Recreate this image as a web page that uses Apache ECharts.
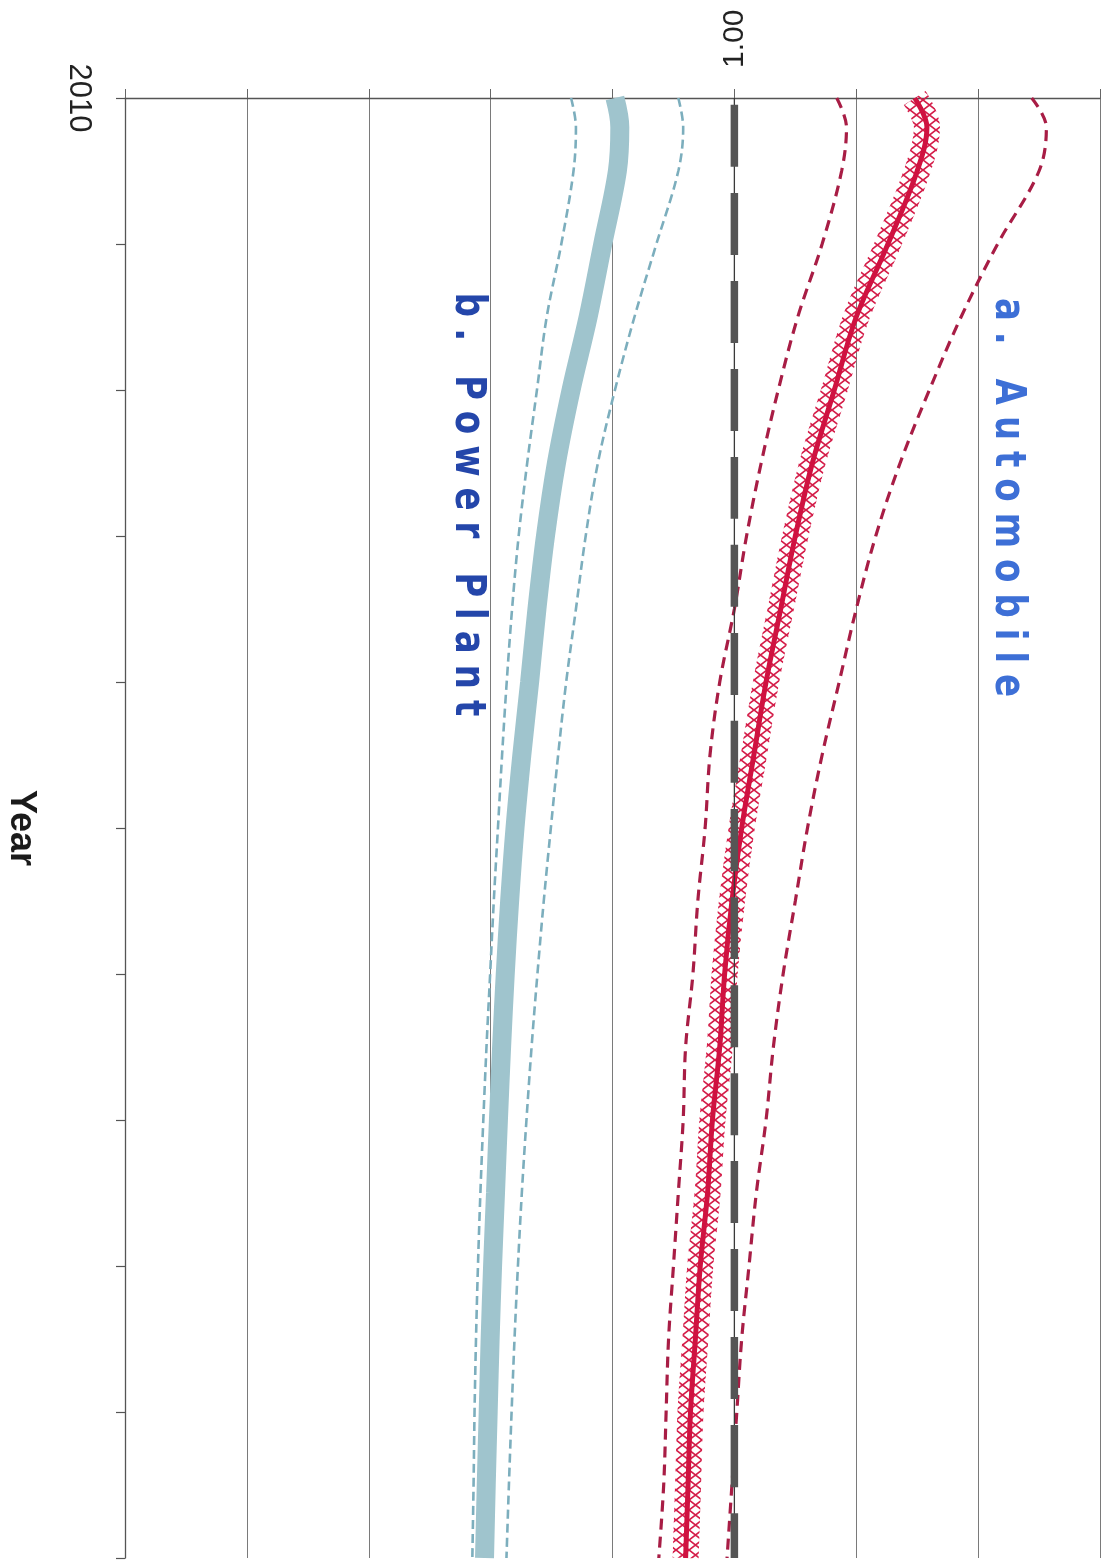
<!DOCTYPE html>
<html><head><meta charset="utf-8">
<script src="https://cdn.jsdelivr.net/npm/echarts@6/dist/echarts.min.js"></script>
<style>
html,body{margin:0;padding:0;background:#fff;}
#wrap{position:relative;width:1111px;height:1564px;}
#chart,#labels{position:absolute;left:0;top:0;width:1111px;height:1564px;}
#labels{pointer-events:none;}
#labels svg text{letter-spacing:11px;}
</style></head><body>
<div id="wrap"><div id="chart"></div><div id="labels"></div></div>
<script>
// ---- data ----
const years      = [2010, 2011, 2012.5, 2015, 2017.5, 2020, 2022.5, 2025, 2027.5, 2030, 2032.5, 2035, 2037.5, 2040, 2042.5, 2045, 2047.5, 2050, 2052.5, 2055, 2057.5, 2060];
const auto       = [1.074, 1.079, 1.075, 1.063, 1.050, 1.041, 1.032, 1.025, 1.019, 1.013, 1.008, 1.003, 0.999, 0.996, 0.994, 0.991, 0.989, 0.986, 0.984, 0.982, 0.981, 0.980];
const autoHigh   = [1.122, 1.128, 1.125, 1.108, 1.093, 1.080, 1.068, 1.058, 1.050, 1.043, 1.036, 1.030, 1.025, 1.020, 1.016, 1.013, 1.009, 1.006, 1.003, 1.001, 0.999, 0.997];
const autoLow    = [1.042, 1.046, 1.044, 1.036, 1.026, 1.018, 1.011, 1.005, 1.000, 0.994, 0.990, 0.988, 0.985, 0.983, 0.980, 0.979, 0.977, 0.975, 0.973, 0.972, 0.971, 0.969];
const power      = [0.951, 0.953, 0.952, 0.946, 0.940, 0.933, 0.927, 0.9225, 0.919, 0.916, 0.9128, 0.910, 0.9078, 0.906, 0.9045, 0.9032, 0.902, 0.9008, 0.8998, 0.899, 0.8982, 0.8975];
const powerHigh  = [0.977, 0.979, 0.977, 0.968, 0.959, 0.951, 0.944, 0.939, 0.935, 0.931, 0.9277, 0.9247, 0.9218, 0.9192, 0.9168, 0.9147, 0.9128, 0.9112, 0.9098, 0.9086, 0.9075, 0.9065];
const powerLow   = [0.933, 0.935, 0.934, 0.929, 0.923, 0.919, 0.915, 0.9115, 0.9088, 0.9066, 0.9047, 0.903, 0.9013, 0.8998, 0.8983, 0.897, 0.8958, 0.8948, 0.894, 0.8934, 0.893, 0.8925];
const refYears   = [2010, 2060];
const refValues  = [1.00, 1.00];
const yearTickLabels  = ['2010'];
const valueTickLabels = ['1.00'];
const annotations = ['a. Automobile', 'b. Power Plant'];

const pairs = (vals, ys) => vals.map((v, i) => [v, (ys || years)[i]]);

// cross-hatch pattern for the marker line
const pat = document.createElement('canvas');
pat.width = 13; pat.height = 10;
const pc = pat.getContext('2d');
pc.strokeStyle = '#d41c48'; pc.lineWidth = 1.7;
pc.beginPath(); pc.moveTo(0, 0); pc.lineTo(13, 10); pc.moveTo(13, 0); pc.lineTo(0, 10); pc.stroke();

const chart = echarts.init(document.getElementById('chart'));
const line = (name, data, ls, z) => ({
  name, type: 'line', data, showSymbol: false, symbol: 'none', smooth: 0.35,
  lineStyle: ls, z: z || 2, silent: true, animation: false
});
chart.setOption({
  animation: false,
  backgroundColor: '#fff',
  grid: { left: 125, top: 98, width: 975, height: 1460, containLabel: false, outerBoundsMode: 'none' },
  xAxis: {
    type: 'value', position: 'top', min: 0.75, max: 1.15, interval: 0.05,
    axisLine: { show: true, lineStyle: { color: '#555', width: 1.3 } },
    axisTick: { show: true, length: 9, lineStyle: { color: '#666', width: 1 } },
    axisLabel: {
      rotate: -90, margin: 30, fontSize: 30, fontFamily: 'Liberation Sans', color: '#222',
      formatter: v => { const s = v.toFixed(2); return valueTickLabels.includes(s) ? s : ''; }
    },
    splitLine: { show: true, lineStyle: { color: '#7a7a7a', width: 1 } }
  },
  yAxis: {
    type: 'value', inverse: true, min: 2010, max: 2060, interval: 5,
    axisLine: { show: true, lineStyle: { color: '#555', width: 1.3 } },
    axisTick: { show: true, length: 9, lineStyle: { color: '#555', width: 1.2 } },
    axisLabel: {
      rotate: -90, margin: 31, fontSize: 31, fontFamily: 'Liberation Sans', color: '#222',
      formatter: v => { const s = String(v); return yearTickLabels.includes(s) ? s : ''; }
    },
    splitLine: { show: false },
    name: 'Year', nameLocation: 'middle', nameRotate: -90, nameGap: 86,
    nameTextStyle: { fontWeight: 'bold', fontSize: 36, fontFamily: 'Liberation Sans', color: '#1a1a1a' }
  },
  series: [
    line('Power Plant low', pairs(powerLow), { color: '#7caebd', width: 2.6, type: [9, 5] }),
    line('Power Plant high', pairs(powerHigh), { color: '#7caebd', width: 2.6, type: [9, 5] }),
    line('Power Plant', pairs(power), { color: '#9fc4cd', width: 19, cap: 'butt' }),
    line('Automobile low', pairs(autoLow), { color: '#a81d45', width: 3.2, type: [11, 7] }),
    line('Automobile high', pairs(autoHigh), { color: '#a81d45', width: 3.2, type: [11, 7] }),
    line('Automobile hatch', pairs(auto), { color: { image: pat, repeat: 'repeat' }, width: 26, cap: 'butt' }, 3),
    line('Automobile', pairs(auto), { color: '#cf1240', width: 5 }, 4),
    line('Reference', pairs(refValues, refYears), { color: '#3a3a3a', width: 1.3 }, 5),
    line('Reference dash', pairs(refValues, refYears), { color: '#555555', width: 7.5, type: [62, 26], dashOffset: 81, cap: 'butt' }, 6)
  ]
});

// annotations (letter-spaced) on an SVG overlay instance
const lab = echarts.init(document.getElementById('labels'), null, { renderer: 'svg' });
lab.setOption({
  animation: false,
  graphic: [
    { type: 'text', x: 1011, y: 503, rotation: -Math.PI / 2, scaleY: 1.25, silent: true,
      style: { text: annotations[0], font: 'bold 34px "DejaVu Sans"', fill: '#3d6fd6',
               align: 'center', verticalAlign: 'middle', textAlign: 'center', textVerticalAlign: 'middle' } },
    { type: 'text', x: 471, y: 510, rotation: -Math.PI / 2, scaleY: 1.25, silent: true,
      style: { text: annotations[1], font: 'bold 34px "DejaVu Sans"', fill: '#2446aa',
               align: 'center', verticalAlign: 'middle', textAlign: 'center', textVerticalAlign: 'middle' } }
  ]
});
</script>
</body></html>
